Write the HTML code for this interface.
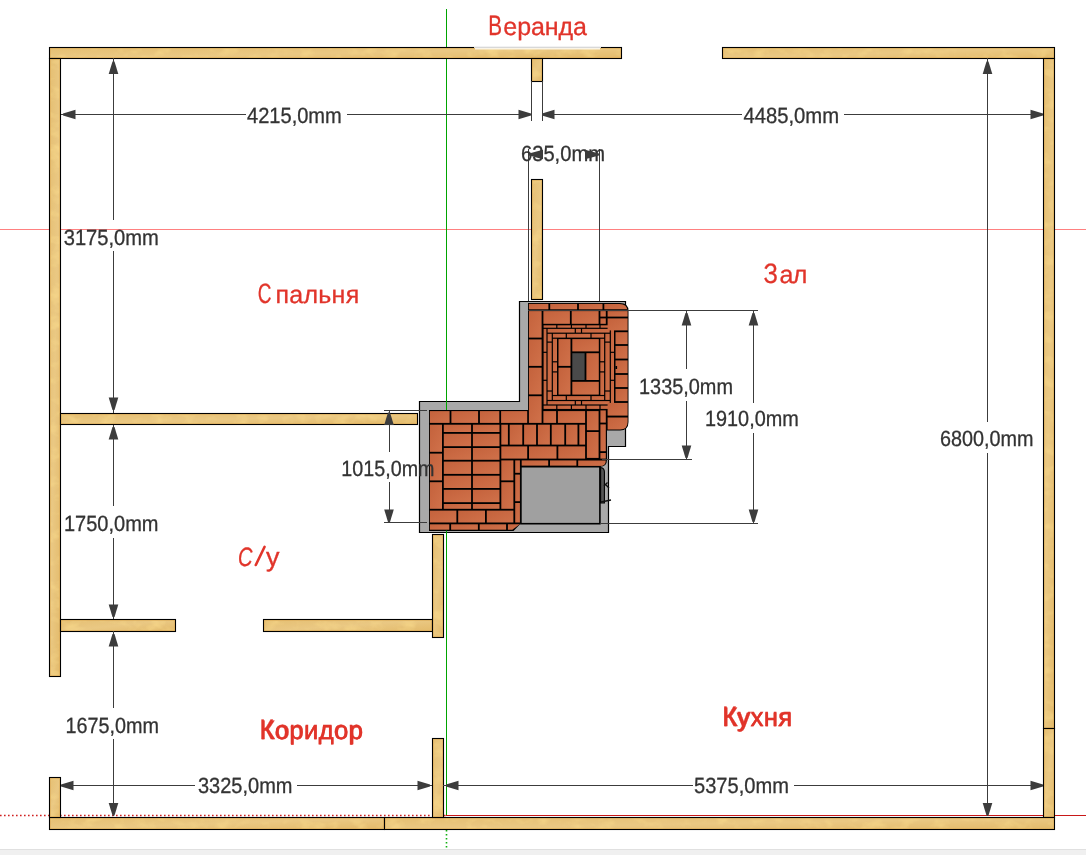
<!DOCTYPE html>
<html><head><meta charset="utf-8"><style>
html,body{margin:0;padding:0;background:#fff;overflow:hidden;}
svg{display:block;font-family:"Liberation Sans",sans-serif;will-change:transform;text-rendering:geometricPrecision;}
</style></head><body>
<svg width="1086" height="855" viewBox="0 0 1086 855">
<defs>
<linearGradient id="wood" x1="0" y1="0" x2="1" y2="1">
<stop offset="0" stop-color="#E5BF72"/>
<stop offset="0.5" stop-color="#EAC883"/>
<stop offset="1" stop-color="#E3BA6A"/>
</linearGradient>
<linearGradient id="brick" x1="0" y1="0" x2="1" y2="1">
<stop offset="0" stop-color="#C4623C"/>
<stop offset="1" stop-color="#D0714A"/>
</linearGradient>
<filter id="wtex" x="0" y="0" width="100%" height="100%" color-interpolation-filters="sRGB">
<feTurbulence type="fractalNoise" baseFrequency="0.06 0.09" numOctaves="3" seed="7" result="n"/>
<feColorMatrix in="n" type="matrix" values="0 0 0 0 0.98  0 0 0 0 0.86  0 0 0 0 0.55  1.6 0 0 0 -0.75" result="c"/>
<feComposite in="c" in2="SourceAlpha" operator="in" result="d"/>
<feMerge><feMergeNode in="SourceGraphic"/><feMergeNode in="d"/></feMerge>
</filter>
</defs>
<rect x="0" y="0" width="1086" height="855" fill="#fff"/>

<line x1="0" y1="229.5" x2="1086" y2="229.5" stroke="#FF8080" stroke-width="1"/>
<line x1="446.5" y1="9" x2="446.5" y2="816" stroke="#00A400" stroke-width="1"/>
<line x1="446" y1="815.5" x2="1086" y2="815.5" stroke="#C81818" stroke-width="1"/>
<line x1="0" y1="815.5" x2="446" y2="815.5" stroke="#D02020" stroke-width="1.6" stroke-dasharray="1.6 2.4"/>
<line x1="446.5" y1="830" x2="446.5" y2="848" stroke="#10B010" stroke-width="1.6" stroke-dasharray="1.6 2.4"/>
<g>
<rect x="49.5" y="47.5" width="572" height="11" fill="url(#wood)" filter="url(#wtex)"/><rect x="50.5" y="48.5" width="570" height="9" fill="none" stroke="#ECB65C" stroke-opacity="0.55" stroke-width="1"/><rect x="49.5" y="47.5" width="572" height="11" fill="none" stroke="#000" stroke-width="1.1"/>
<rect x="722.5" y="47.5" width="332" height="11" fill="url(#wood)" filter="url(#wtex)"/><rect x="723.5" y="48.5" width="330" height="9" fill="none" stroke="#ECB65C" stroke-opacity="0.55" stroke-width="1"/><rect x="722.5" y="47.5" width="332" height="11" fill="none" stroke="#000" stroke-width="1.1"/>
<rect x="49.5" y="58.5" width="11" height="618" fill="url(#wood)" filter="url(#wtex)"/><rect x="50.5" y="59.5" width="9" height="616" fill="none" stroke="#ECB65C" stroke-opacity="0.55" stroke-width="1"/><rect x="49.5" y="58.5" width="11" height="618" fill="none" stroke="#000" stroke-width="1.1"/>
<rect x="1043.5" y="58.5" width="11" height="670" fill="url(#wood)" filter="url(#wtex)"/><rect x="1044.5" y="59.5" width="9" height="668" fill="none" stroke="#ECB65C" stroke-opacity="0.55" stroke-width="1"/><rect x="1043.5" y="58.5" width="11" height="670" fill="none" stroke="#000" stroke-width="1.1"/>
<rect x="1043.5" y="728.5" width="11" height="89" fill="url(#wood)" filter="url(#wtex)"/><rect x="1044.5" y="729.5" width="9" height="87" fill="none" stroke="#ECB65C" stroke-opacity="0.55" stroke-width="1"/><rect x="1043.5" y="728.5" width="11" height="89" fill="none" stroke="#000" stroke-width="1.1"/>
<rect x="49.5" y="817.5" width="335" height="12" fill="url(#wood)" filter="url(#wtex)"/><rect x="50.5" y="818.5" width="333" height="10" fill="none" stroke="#ECB65C" stroke-opacity="0.55" stroke-width="1"/><rect x="49.5" y="817.5" width="335" height="12" fill="none" stroke="#000" stroke-width="1.1"/>
<rect x="384.5" y="817.5" width="670" height="12" fill="url(#wood)" filter="url(#wtex)"/><rect x="385.5" y="818.5" width="668" height="10" fill="none" stroke="#ECB65C" stroke-opacity="0.55" stroke-width="1"/><rect x="384.5" y="817.5" width="670" height="12" fill="none" stroke="#000" stroke-width="1.1"/>
<rect x="531.5" y="58.5" width="11" height="23" fill="url(#wood)" filter="url(#wtex)"/><rect x="532.5" y="59.5" width="9" height="21" fill="none" stroke="#ECB65C" stroke-opacity="0.55" stroke-width="1"/><rect x="531.5" y="58.5" width="11" height="23" fill="none" stroke="#000" stroke-width="1.1"/>
<rect x="531.5" y="179.5" width="11" height="120" fill="url(#wood)" filter="url(#wtex)"/><rect x="532.5" y="180.5" width="9" height="118" fill="none" stroke="#ECB65C" stroke-opacity="0.55" stroke-width="1"/><rect x="531.5" y="179.5" width="11" height="120" fill="none" stroke="#000" stroke-width="1.1"/>
<rect x="60.5" y="413.5" width="357" height="11" fill="url(#wood)" filter="url(#wtex)"/><rect x="61.5" y="414.5" width="355" height="9" fill="none" stroke="#ECB65C" stroke-opacity="0.55" stroke-width="1"/><rect x="60.5" y="413.5" width="357" height="11" fill="none" stroke="#000" stroke-width="1.1"/>
<rect x="60.5" y="619.5" width="115" height="12" fill="url(#wood)" filter="url(#wtex)"/><rect x="61.5" y="620.5" width="113" height="10" fill="none" stroke="#ECB65C" stroke-opacity="0.55" stroke-width="1"/><rect x="60.5" y="619.5" width="115" height="12" fill="none" stroke="#000" stroke-width="1.1"/>
<rect x="263.5" y="619.5" width="169" height="12" fill="url(#wood)" filter="url(#wtex)"/><rect x="264.5" y="620.5" width="167" height="10" fill="none" stroke="#ECB65C" stroke-opacity="0.55" stroke-width="1"/><rect x="263.5" y="619.5" width="169" height="12" fill="none" stroke="#000" stroke-width="1.1"/>
<rect x="432.5" y="534.5" width="11" height="103" fill="url(#wood)" filter="url(#wtex)"/><rect x="433.5" y="535.5" width="9" height="101" fill="none" stroke="#ECB65C" stroke-opacity="0.55" stroke-width="1"/><rect x="432.5" y="534.5" width="11" height="103" fill="none" stroke="#000" stroke-width="1.1"/>
<rect x="49.5" y="777.5" width="11" height="40" fill="url(#wood)" filter="url(#wtex)"/><rect x="50.5" y="778.5" width="9" height="38" fill="none" stroke="#ECB65C" stroke-opacity="0.55" stroke-width="1"/><rect x="49.5" y="777.5" width="11" height="40" fill="none" stroke="#000" stroke-width="1.1"/>
<rect x="432.5" y="738.5" width="11" height="79" fill="url(#wood)" filter="url(#wtex)"/><rect x="433.5" y="739.5" width="9" height="77" fill="none" stroke="#ECB65C" stroke-opacity="0.55" stroke-width="1"/><rect x="432.5" y="738.5" width="11" height="79" fill="none" stroke="#000" stroke-width="1.1"/>
</g>
<rect x="474" y="47" width="127" height="1" fill="#D8D8D8"/>
<rect x="475" y="48" width="125" height="1.5" fill="#FAF4E6"/>
<line x1="61" y1="114.5" x2="246" y2="114.5" stroke="#3c3c3c" stroke-width="1"/>
<line x1="347" y1="114.5" x2="531" y2="114.5" stroke="#3c3c3c" stroke-width="1"/>
<polygon points="63.0,113.5 63.0,115.5 75.5,119.3 75.5,109.7" fill="#3c3c3c"/>
<polygon points="531.0,113.5 531.0,115.5 518.5,119.3 518.5,109.7" fill="#3c3c3c"/>
<text x="247" y="122.8" font-size="22" fill="#333" stroke="#333" stroke-width="0.3" textLength="94.8" lengthAdjust="spacingAndGlyphs">4215,0mm</text>
<line x1="542" y1="114.5" x2="742" y2="114.5" stroke="#3c3c3c" stroke-width="1"/>
<line x1="844" y1="114.5" x2="1043" y2="114.5" stroke="#3c3c3c" stroke-width="1"/>
<polygon points="542.0,113.5 542.0,115.5 554.5,119.3 554.5,109.7" fill="#3c3c3c"/>
<polygon points="1043.0,113.5 1043.0,115.5 1030.5,119.3 1030.5,109.7" fill="#3c3c3c"/>
<text x="743.4" y="122.8" font-size="22" fill="#333" stroke="#333" stroke-width="0.3" textLength="95.7" lengthAdjust="spacingAndGlyphs">4485,0mm</text>
<line x1="531.5" y1="81" x2="531.5" y2="121" stroke="#3c3c3c" stroke-width="1"/>
<line x1="542.5" y1="81" x2="542.5" y2="121" stroke="#3c3c3c" stroke-width="1"/>
<line x1="113.5" y1="58" x2="113.5" y2="220" stroke="#3c3c3c" stroke-width="1"/>
<line x1="113.5" y1="251" x2="113.5" y2="413" stroke="#3c3c3c" stroke-width="1"/>
<polygon points="112.5,61.5 114.5,61.5 118.3,74.0 108.7,74.0" fill="#3c3c3c"/>
<polygon points="112.5,410.0 114.5,410.0 118.3,397.5 108.7,397.5" fill="#3c3c3c"/>
<text x="63.7" y="244.8" font-size="22" fill="#333" stroke="#333" stroke-width="0.3" textLength="95.2" lengthAdjust="spacingAndGlyphs">3175,0mm</text>
<line x1="113.5" y1="425" x2="113.5" y2="506" stroke="#3c3c3c" stroke-width="1"/>
<line x1="113.5" y1="538" x2="113.5" y2="619" stroke="#3c3c3c" stroke-width="1"/>
<polygon points="112.5,427.0 114.5,427.0 118.3,439.5 108.7,439.5" fill="#3c3c3c"/>
<polygon points="112.5,617.0 114.5,617.0 118.3,604.5 108.7,604.5" fill="#3c3c3c"/>
<text x="64" y="530.8" font-size="22" fill="#333" stroke="#333" stroke-width="0.3" textLength="94.5" lengthAdjust="spacingAndGlyphs">1750,0mm</text>
<line x1="113.5" y1="631" x2="113.5" y2="708" stroke="#3c3c3c" stroke-width="1"/>
<line x1="113.5" y1="739" x2="113.5" y2="816" stroke="#3c3c3c" stroke-width="1"/>
<polygon points="112.5,634.0 114.5,634.0 118.3,646.5 108.7,646.5" fill="#3c3c3c"/>
<polygon points="112.5,815.5 114.5,815.5 118.3,803.0 108.7,803.0" fill="#3c3c3c"/>
<text x="65.5" y="732.8" font-size="22" fill="#333" stroke="#333" stroke-width="0.3" textLength="93.5" lengthAdjust="spacingAndGlyphs">1675,0mm</text>
<line x1="61" y1="785.5" x2="195" y2="785.5" stroke="#3c3c3c" stroke-width="1"/>
<line x1="297" y1="785.5" x2="432" y2="785.5" stroke="#3c3c3c" stroke-width="1"/>
<polygon points="61.0,784.5 61.0,786.5 73.5,790.3 73.5,780.7" fill="#3c3c3c"/>
<polygon points="430.0,784.5 430.0,786.5 417.5,790.3 417.5,780.7" fill="#3c3c3c"/>
<text x="198" y="792.8" font-size="22" fill="#333" stroke="#333" stroke-width="0.3" textLength="94.5" lengthAdjust="spacingAndGlyphs">3325,0mm</text>
<line x1="443" y1="785.5" x2="693" y2="785.5" stroke="#3c3c3c" stroke-width="1"/>
<line x1="794" y1="785.5" x2="1043" y2="785.5" stroke="#3c3c3c" stroke-width="1"/>
<polygon points="446.0,784.5 446.0,786.5 458.5,790.3 458.5,780.7" fill="#3c3c3c"/>
<polygon points="1043.0,784.5 1043.0,786.5 1030.5,790.3 1030.5,780.7" fill="#3c3c3c"/>
<text x="694" y="793.3" font-size="22" fill="#333" stroke="#333" stroke-width="0.3" textLength="94.9" lengthAdjust="spacingAndGlyphs">5375,0mm</text>
<line x1="987.5" y1="58" x2="987.5" y2="422" stroke="#3c3c3c" stroke-width="1"/>
<line x1="987.5" y1="453" x2="987.5" y2="816" stroke="#3c3c3c" stroke-width="1"/>
<polygon points="986.5,61.5 988.5,61.5 992.3,74.0 982.7,74.0" fill="#3c3c3c"/>
<polygon points="986.5,815.5 988.5,815.5 992.3,803.0 982.7,803.0" fill="#3c3c3c"/>
<text x="940" y="445.8" font-size="22" fill="#333" stroke="#333" stroke-width="0.3" textLength="93.5" lengthAdjust="spacingAndGlyphs">6800,0mm</text>
<text x="488.2" y="35.3" font-size="28" fill="#E1342A" textLength="13.8" lengthAdjust="spacingAndGlyphs" stroke="#E1342A" stroke-width="0.3">В</text><text x="503.3" y="35.3" font-size="25" fill="#E1342A" textLength="83.7" lengthAdjust="spacing" stroke="#E1342A" stroke-width="0.3">еранда</text>
<text x="257.8" y="302.6" font-size="28" fill="#E1342A" textLength="13.7" lengthAdjust="spacingAndGlyphs" stroke="#E1342A" stroke-width="0.3">С</text><text x="275.5" y="302.6" font-size="25" fill="#E1342A" textLength="83.7" lengthAdjust="spacing" stroke="#E1342A" stroke-width="0.3">пальня</text>
<text x="763.6" y="282.6" font-size="28" fill="#E1342A" textLength="14.4" lengthAdjust="spacingAndGlyphs" stroke="#E1342A" stroke-width="0.3">З</text><text x="779.6" y="282.6" font-size="25" fill="#E1342A" textLength="27.7" lengthAdjust="spacing" stroke="#E1342A" stroke-width="0.3">ал</text>
<text x="259.5" y="738.5" font-size="28" fill="#E1342A" textLength="14.1" lengthAdjust="spacingAndGlyphs" stroke="#E1342A" stroke-width="0.3">К</text><text x="274.4" y="738.5" font-size="25" fill="#E1342A" textLength="88.7" lengthAdjust="spacing" stroke="#E1342A" stroke-width="0.3">оридор</text>
<text x="722.3" y="725.7" font-size="28" fill="#E1342A" textLength="14.2" lengthAdjust="spacingAndGlyphs" stroke="#E1342A" stroke-width="0.3">К</text><text x="736.8" y="725.7" font-size="25" fill="#E1342A" textLength="55.6" lengthAdjust="spacing" stroke="#E1342A" stroke-width="0.3">ухня</text>
<text font-style="italic" x="238" y="565.6" font-size="26.5" fill="#E1342A" textLength="14.5" lengthAdjust="spacingAndGlyphs" stroke="#E1342A" stroke-width="0.3">С</text>
<line x1="255.8" y1="565" x2="264.6" y2="546.8" stroke="#E1342A" stroke-width="2.6" stroke-linecap="round"/>
<text x="266" y="565.6" font-size="26.5" fill="#E1342A" textLength="13.5" lengthAdjust="spacingAndGlyphs" stroke="#E1342A" stroke-width="0.3">у</text>
<text x="260" y="738.5" font-size="26.5" fill="#E1342A" textLength="102.7" lengthAdjust="spacingAndGlyphs" stroke="#E1342A" stroke-width="0.3">Коридор</text>
<text x="722.8" y="725.7" font-size="26.5" fill="#E1342A" textLength="69.2" lengthAdjust="spacingAndGlyphs" stroke="#E1342A" stroke-width="0.3">Кухня</text>
<path d="M519.5 301.5 H625.5 V446.5 H608.5 V532.5 H419.5 V401.5 H519.5 Z" fill="#A9A9A9" stroke="#000" stroke-width="1.2"/>
<path d="M528 303 H620 Q628.5 303 628.5 311 V422 Q628.5 430.5 620 430.5 H607 V459.5 Q607 466.8 600 466.8 H520.8 V523.4 L513.5 531 H429 V410 H528 Z" fill="#000"/>
<rect x="528.90" y="303.90" width="19.50" height="5.40" fill="url(#brick)"/>
<rect x="550.20" y="303.90" width="26.90" height="5.40" fill="url(#brick)"/>
<rect x="578.90" y="303.90" width="23.60" height="5.40" fill="url(#brick)"/>
<path d="M604.3 303.9 H619.5 Q627.4 304 627.4 311 V309.3 H604.3 Z" fill="url(#brick)"/>
<rect x="528.90" y="311.10" width="12.70" height="26.50" fill="url(#brick)"/>
<rect x="528.90" y="339.40" width="12.70" height="26.50" fill="url(#brick)"/>
<rect x="528.90" y="367.70" width="12.70" height="26.70" fill="url(#brick)"/>
<rect x="528.90" y="396.20" width="12.70" height="26.70" fill="url(#brick)"/>
<rect x="543.40" y="311.10" width="26.50" height="12.70" fill="url(#brick)"/>
<rect x="571.70" y="311.10" width="26.90" height="12.70" fill="url(#brick)"/>
<rect x="600.40" y="311.10" width="5.40" height="5.50" fill="url(#brick)"/>
<rect x="600.40" y="318.40" width="5.40" height="5.40" fill="url(#brick)"/>
<rect x="543.60" y="325.30" width="12.60" height="2.40" fill="url(#brick)"/>
<rect x="543.60" y="405.60" width="12.60" height="3.30" fill="url(#brick)"/>
<rect x="557.40" y="325.30" width="13.40" height="2.40" fill="url(#brick)"/>
<rect x="557.40" y="405.60" width="13.40" height="3.30" fill="url(#brick)"/>
<rect x="572.00" y="325.30" width="13.40" height="2.40" fill="url(#brick)"/>
<rect x="572.00" y="405.60" width="13.40" height="3.30" fill="url(#brick)"/>
<rect x="586.60" y="325.30" width="12.80" height="2.40" fill="url(#brick)"/>
<rect x="586.60" y="405.60" width="12.80" height="3.30" fill="url(#brick)"/>
<rect x="600.60" y="325.30" width="13.40" height="2.40" fill="url(#brick)"/>
<rect x="600.60" y="405.60" width="13.40" height="3.30" fill="url(#brick)"/>
<rect x="543.60" y="328.90" width="2.80" height="22.80" fill="url(#brick)"/>
<rect x="610.90" y="328.90" width="3.10" height="22.80" fill="url(#brick)"/>
<rect x="543.60" y="352.90" width="2.80" height="26.80" fill="url(#brick)"/>
<rect x="610.90" y="352.90" width="3.10" height="26.80" fill="url(#brick)"/>
<rect x="543.60" y="380.90" width="2.80" height="23.50" fill="url(#brick)"/>
<rect x="610.90" y="380.90" width="3.10" height="23.50" fill="url(#brick)"/>
<rect x="547.60" y="328.90" width="27.10" height="3.70" fill="url(#brick)"/>
<rect x="547.60" y="401.10" width="27.10" height="3.30" fill="url(#brick)"/>
<rect x="575.90" y="328.90" width="5.00" height="3.70" fill="url(#brick)"/>
<rect x="575.90" y="401.10" width="5.00" height="3.30" fill="url(#brick)"/>
<rect x="582.10" y="328.90" width="27.60" height="3.70" fill="url(#brick)"/>
<rect x="582.10" y="401.10" width="27.60" height="3.30" fill="url(#brick)"/>
<rect x="547.60" y="333.80" width="4.10" height="7.70" fill="url(#brick)"/>
<rect x="605.30" y="333.80" width="4.40" height="7.70" fill="url(#brick)"/>
<rect x="547.60" y="342.70" width="4.10" height="47.70" fill="url(#brick)"/>
<rect x="605.30" y="342.70" width="4.40" height="47.70" fill="url(#brick)"/>
<rect x="547.60" y="391.60" width="4.10" height="8.30" fill="url(#brick)"/>
<rect x="605.30" y="391.60" width="4.40" height="8.30" fill="url(#brick)"/>
<rect x="552.90" y="333.80" width="12.80" height="3.80" fill="url(#brick)"/>
<rect x="552.90" y="396.10" width="12.80" height="3.80" fill="url(#brick)"/>
<rect x="566.90" y="333.80" width="23.50" height="3.80" fill="url(#brick)"/>
<rect x="566.90" y="396.10" width="23.50" height="3.80" fill="url(#brick)"/>
<rect x="591.60" y="333.80" width="12.50" height="3.80" fill="url(#brick)"/>
<rect x="591.60" y="396.10" width="12.50" height="3.80" fill="url(#brick)"/>
<rect x="552.90" y="338.80" width="4.10" height="22.40" fill="url(#brick)"/>
<rect x="600.30" y="338.80" width="3.80" height="22.40" fill="url(#brick)"/>
<rect x="552.90" y="362.40" width="4.10" height="8.90" fill="url(#brick)"/>
<rect x="600.30" y="362.40" width="3.80" height="8.90" fill="url(#brick)"/>
<rect x="552.90" y="372.50" width="4.10" height="22.40" fill="url(#brick)"/>
<rect x="600.30" y="372.50" width="3.80" height="22.40" fill="url(#brick)"/>
<rect x="558.50" y="339.10" width="12.00" height="26.80" fill="url(#brick)"/>
<rect x="558.50" y="367.70" width="12.00" height="26.90" fill="url(#brick)"/>
<rect x="572.30" y="339.10" width="26.50" height="12.30" fill="url(#brick)"/>
<rect x="586.40" y="353.20" width="12.40" height="26.80" fill="url(#brick)"/>
<rect x="572.30" y="381.80" width="26.50" height="12.80" fill="url(#brick)"/>
<rect x="572.3" y="353.2" width="12.300000000000022" height="26.799999999999965" fill="#4A4A4A"/>
<rect x="607.60" y="311.10" width="20.00" height="5.50" fill="url(#brick)"/>
<rect x="607.60" y="318.40" width="20.00" height="12.00" fill="url(#brick)"/>
<rect x="615.50" y="332.20" width="12.10" height="11.90" fill="url(#brick)"/>
<rect x="615.50" y="345.90" width="12.10" height="12.70" fill="url(#brick)"/>
<rect x="615.50" y="360.40" width="12.10" height="12.70" fill="url(#brick)"/>
<rect x="615.50" y="374.90" width="12.10" height="12.20" fill="url(#brick)"/>
<rect x="615.50" y="388.90" width="12.10" height="12.20" fill="url(#brick)"/>
<rect x="607.60" y="402.90" width="20.00" height="12.70" fill="url(#brick)"/>
<path d="M607.6 417.4 H627.6 V422 Q627.6 429.6 620 429.6 H607.6 Z" fill="url(#brick)"/>
<rect x="429.90" y="411.10" width="19.70" height="11.80" fill="url(#brick)"/>
<rect x="451.40" y="411.10" width="26.70" height="11.80" fill="url(#brick)"/>
<rect x="479.90" y="411.10" width="19.40" height="11.80" fill="url(#brick)"/>
<rect x="501.10" y="411.10" width="26.10" height="11.80" fill="url(#brick)"/>
<rect x="543.40" y="411.10" width="12.70" height="11.80" fill="url(#brick)"/>
<rect x="557.90" y="411.10" width="27.20" height="11.80" fill="url(#brick)"/>
<rect x="586.90" y="411.10" width="11.70" height="19.10" fill="url(#brick)"/>
<rect x="586.90" y="432.00" width="11.70" height="25.90" fill="url(#brick)"/>
<rect x="600.40" y="410.40" width="5.40" height="12.20" fill="url(#brick)"/>
<rect x="600.40" y="424.40" width="5.40" height="26.80" fill="url(#brick)"/>
<rect x="600.40" y="453.00" width="5.40" height="5.60" fill="url(#brick)"/>
<rect x="429.90" y="424.70" width="12.10" height="27.10" fill="url(#brick)"/>
<rect x="429.90" y="453.60" width="12.10" height="26.80" fill="url(#brick)"/>
<rect x="429.90" y="482.20" width="12.10" height="26.60" fill="url(#brick)"/>
<rect x="443.80" y="424.70" width="27.30" height="7.30" fill="url(#brick)"/>
<rect x="472.90" y="424.70" width="26.60" height="7.30" fill="url(#brick)"/>
<rect x="443.80" y="433.80" width="27.30" height="12.40" fill="url(#brick)"/>
<rect x="472.90" y="433.80" width="26.60" height="12.40" fill="url(#brick)"/>
<rect x="443.80" y="448.00" width="27.30" height="11.80" fill="url(#brick)"/>
<rect x="472.90" y="448.00" width="26.60" height="11.80" fill="url(#brick)"/>
<rect x="443.80" y="461.60" width="27.30" height="12.30" fill="url(#brick)"/>
<rect x="472.90" y="461.60" width="26.60" height="12.30" fill="url(#brick)"/>
<rect x="443.80" y="475.70" width="27.30" height="12.30" fill="url(#brick)"/>
<rect x="472.90" y="475.70" width="26.60" height="12.30" fill="url(#brick)"/>
<rect x="443.80" y="489.80" width="27.30" height="12.40" fill="url(#brick)"/>
<rect x="472.90" y="489.80" width="26.60" height="12.40" fill="url(#brick)"/>
<rect x="443.80" y="504.00" width="27.30" height="4.80" fill="url(#brick)"/>
<rect x="472.90" y="504.00" width="26.60" height="4.80" fill="url(#brick)"/>
<rect x="501.30" y="424.70" width="6.60" height="19.90" fill="url(#brick)"/>
<rect x="509.70" y="424.70" width="12.60" height="19.90" fill="url(#brick)"/>
<rect x="524.10" y="424.70" width="12.00" height="19.90" fill="url(#brick)"/>
<rect x="537.90" y="424.70" width="12.00" height="19.90" fill="url(#brick)"/>
<rect x="551.70" y="424.70" width="12.60" height="19.90" fill="url(#brick)"/>
<rect x="566.10" y="424.70" width="11.40" height="19.90" fill="url(#brick)"/>
<rect x="579.30" y="424.70" width="5.80" height="19.90" fill="url(#brick)"/>
<rect x="501.30" y="446.40" width="25.90" height="12.20" fill="url(#brick)"/>
<rect x="529.00" y="446.40" width="27.50" height="12.20" fill="url(#brick)"/>
<rect x="558.30" y="446.40" width="26.80" height="12.20" fill="url(#brick)"/>
<rect x="501.30" y="460.40" width="12.10" height="20.00" fill="url(#brick)"/>
<rect x="501.30" y="482.20" width="12.10" height="26.60" fill="url(#brick)"/>
<rect x="515.20" y="460.40" width="4.70" height="12.40" fill="url(#brick)"/>
<rect x="515.20" y="474.60" width="4.70" height="26.60" fill="url(#brick)"/>
<rect x="515.20" y="503.00" width="4.70" height="19.50" fill="url(#brick)"/>
<rect x="521.70" y="460.40" width="26.50" height="5.30" fill="url(#brick)"/>
<rect x="550.00" y="460.40" width="26.40" height="5.30" fill="url(#brick)"/>
<path d="M578.2 460.4 H605.8 Q605.8 465.9 600 465.9 H578.2 Z" fill="url(#brick)"/>
<rect x="429.90" y="510.60" width="26.50" height="11.90" fill="url(#brick)"/>
<rect x="458.20" y="510.60" width="26.80" height="11.90" fill="url(#brick)"/>
<rect x="486.80" y="510.60" width="26.60" height="11.90" fill="url(#brick)"/>
<rect x="429.90" y="524.30" width="19.40" height="5.40" fill="url(#brick)"/>
<rect x="451.10" y="524.30" width="26.80" height="5.40" fill="url(#brick)"/>
<rect x="479.70" y="524.30" width="26.40" height="5.40" fill="url(#brick)"/>
<path d="M507.9 524.3 H519.8 L512.3 529.7 H507.9 Z" fill="url(#brick)"/>
<rect x="520.9" y="466.7" width="79" height="57" fill="#A0A0A0" stroke="#000" stroke-width="1.6"/>
<path d="M600.6 467.5 Q604.4 468 604.4 472 V503 H600.6 Z" fill="#555" stroke="#000" stroke-width="1.1"/>
<path d="M604 486 L607.5 482.5 M605 484 L609 488 M601 502 L611 500" stroke="#111" stroke-width="1.3" fill="none"/>
<rect x="615.5" y="366" width="1.6" height="3" fill="#000"/>
<line x1="446.5" y1="401" x2="446.5" y2="410" stroke="#00A400" stroke-width="1"/>
<line x1="446.5" y1="530.6" x2="446.5" y2="533" stroke="#00A400" stroke-width="1"/>
<line x1="389.5" y1="410" x2="389.5" y2="452" stroke="#3c3c3c" stroke-width="1"/>
<line x1="389.5" y1="482" x2="389.5" y2="523" stroke="#3c3c3c" stroke-width="1"/>
<polygon points="388.0,412.5 390.0,412.5 393.8,425.0 384.2,425.0" fill="#3c3c3c"/>
<polygon points="388.0,522.0 390.0,522.0 393.8,509.5 384.2,509.5" fill="#3c3c3c"/>
<line x1="384" y1="410.5" x2="427" y2="410.5" stroke="#3c3c3c" stroke-width="1"/>
<line x1="384" y1="522.5" x2="427" y2="522.5" stroke="#3c3c3c" stroke-width="1"/>
<text x="341.3" y="475.8" font-size="22" fill="#333" stroke="#333" stroke-width="0.3" textLength="93.2" lengthAdjust="spacingAndGlyphs">1015,0mm</text>
<line x1="602" y1="459.5" x2="692" y2="459.5" stroke="#3c3c3c" stroke-width="1"/>
<line x1="686.5" y1="310" x2="686.5" y2="369" stroke="#3c3c3c" stroke-width="1"/>
<line x1="686.5" y1="401" x2="686.5" y2="459" stroke="#3c3c3c" stroke-width="1"/>
<polygon points="685.5,313.0 687.5,313.0 691.3,325.5 681.7,325.5" fill="#3c3c3c"/>
<polygon points="685.5,458.0 687.5,458.0 691.3,445.5 681.7,445.5" fill="#3c3c3c"/>
<text x="639" y="393.8" font-size="22" fill="#333" stroke="#333" stroke-width="0.3" textLength="94.0" lengthAdjust="spacingAndGlyphs">1335,0mm</text>
<line x1="528" y1="310.5" x2="758" y2="310.5" stroke="#3c3c3c" stroke-width="1"/>
<line x1="600" y1="523.5" x2="758" y2="523.5" stroke="#3c3c3c" stroke-width="1"/>
<line x1="753.5" y1="310" x2="753.5" y2="403" stroke="#3c3c3c" stroke-width="1"/>
<line x1="753.5" y1="433" x2="753.5" y2="523" stroke="#3c3c3c" stroke-width="1"/>
<polygon points="752.5,313.0 754.5,313.0 758.3,325.5 748.7,325.5" fill="#3c3c3c"/>
<polygon points="752.5,522.0 754.5,522.0 758.3,509.5 748.7,509.5" fill="#3c3c3c"/>
<text x="705" y="425.8" font-size="22" fill="#333" stroke="#333" stroke-width="0.3" textLength="93.8" lengthAdjust="spacingAndGlyphs">1910,0mm</text>
<line x1="528.5" y1="149" x2="528.5" y2="301" stroke="#3c3c3c" stroke-width="1"/>
<line x1="599.5" y1="149" x2="599.5" y2="301" stroke="#3c3c3c" stroke-width="1"/>
<text x="521" y="161.3" font-size="22" fill="#333" stroke="#333" stroke-width="0.3" textLength="84.0" lengthAdjust="spacingAndGlyphs">635,0mm</text>
<polygon points="529.0,153.5 529.0,155.5 543.0,159.3 543.0,149.7" fill="#3c3c3c"/>
<polygon points="599.0,153.5 599.0,155.5 585.0,159.3 585.0,149.7" fill="#3c3c3c"/>
<rect x="0" y="849" width="1086" height="1" fill="#E0E0E0"/>
<rect x="0" y="850" width="1086" height="5" fill="#F0F0F0"/>
</svg></body></html>
